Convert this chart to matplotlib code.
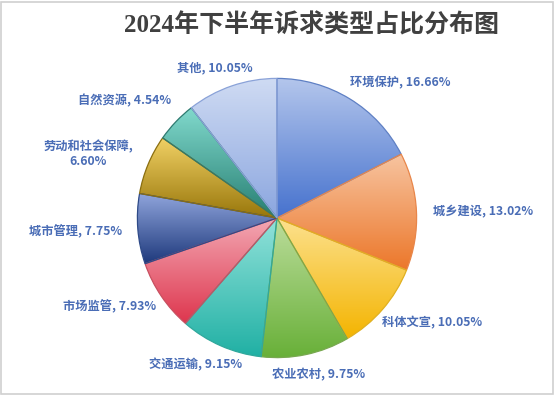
import matplotlib.pyplot as plt
import numpy as np
from matplotlib.colors import LinearSegmentedColormap
from matplotlib.patches import Rectangle

plt.rcParams['font.family'] = ['Noto Sans CJK SC', 'DejaVu Sans']

# 数据
categories = ['环境保护', '城乡建设', '科体文宣', '农业农村', '交通运输',
              '市场监管', '城市管理', '劳动和社会保障', '自然资源', '其他']
shares = [16.66, 13.02, 10.05, 9.75, 9.15, 7.93, 7.75, 6.60, 4.54, 10.05]

# 渐变色：上浅下深
top_colors = ['#B4C6EC', '#F7C4A0', '#FCE18E', '#BCDD9C', '#92E2DA',
              '#F3A9B4', '#90A5DC', '#F2D266', '#82DACD', '#CFDBF3']
bottom_colors = ['#4672CE', '#EC772A', '#F4B400', '#68B038', '#20B0A4',
                 '#DE364E', '#1E397C', '#98760A', '#267E72', '#8BA6DF']
edge_colors = ['#5F80C4', '#E8864A', '#E0B020', '#78A850', '#30A89C',
               '#C85060', '#2E4A88', '#8A6E10', '#2E7A70', '#8AA2D8']

# 标签位置（像素，中心）
label_pos = [(400, 83), (483, 212), (432, 323), (319, 375), (196, 365),
             (110, 307), (76, 232), (88, 154), (125, 101), (215, 68)]

W, H = 555, 395
fig = plt.figure(figsize=(W / 100, H / 100), dpi=100)

cx, cy, r = 277, 218, 141
ax = fig.add_axes([(cx - r) / W, (H - cy - r) / H, 2 * r / W, 2 * r / H])

wedges, _ = ax.pie(shares, startangle=90, counterclock=False, radius=1,
                   wedgeprops=dict(linewidth=0.9))

grad = np.linspace(0, 1, 256).reshape(-1, 1)
for i, w in enumerate(wedges):
    w.set_facecolor('none')
    w.set_edgecolor(edge_colors[i])
    w.set_zorder(3)
    bb = w.get_path().get_extents()
    cmap = LinearSegmentedColormap.from_list('g%d' % i, [top_colors[i], bottom_colors[i]])
    im = ax.imshow(grad, cmap=cmap, extent=(bb.x0, bb.x1, bb.y0, bb.y1),
                   origin='upper', aspect='auto', zorder=2, interpolation='bilinear')
    im.set_clip_path(w)

ax.set_xlim(-1.01, 1.01)
ax.set_ylim(-1.01, 1.01)
ax.axis('off')

for i, (name, v) in enumerate(zip(categories, shares)):
    sep = ',\n' if len(name) > 5 else ', '
    x, y = label_pos[i]
    fig.text(x / W, 1 - y / H, f'{name}{sep}{v:.2f}%', ha='center', va='center',
             fontsize=8.8, fontweight='bold', color='#4A6DB6', linespacing=1.25)

fig.text(312 / W, 1 - 25 / H, '2024年下半年诉求类型占比分布图', ha='center', va='center',
         fontsize=18, fontweight='bold', color='#404040',
         family=['Liberation Serif', 'Noto Sans CJK SC'])

fig.patches.append(Rectangle((1 / W, 1 / H), (W - 3) / W, (H - 3) / H, transform=fig.transFigure,
                             fill=False, edgecolor='#D0D0D0', linewidth=1.2))

fig.savefig('out.png', dpi=100)
